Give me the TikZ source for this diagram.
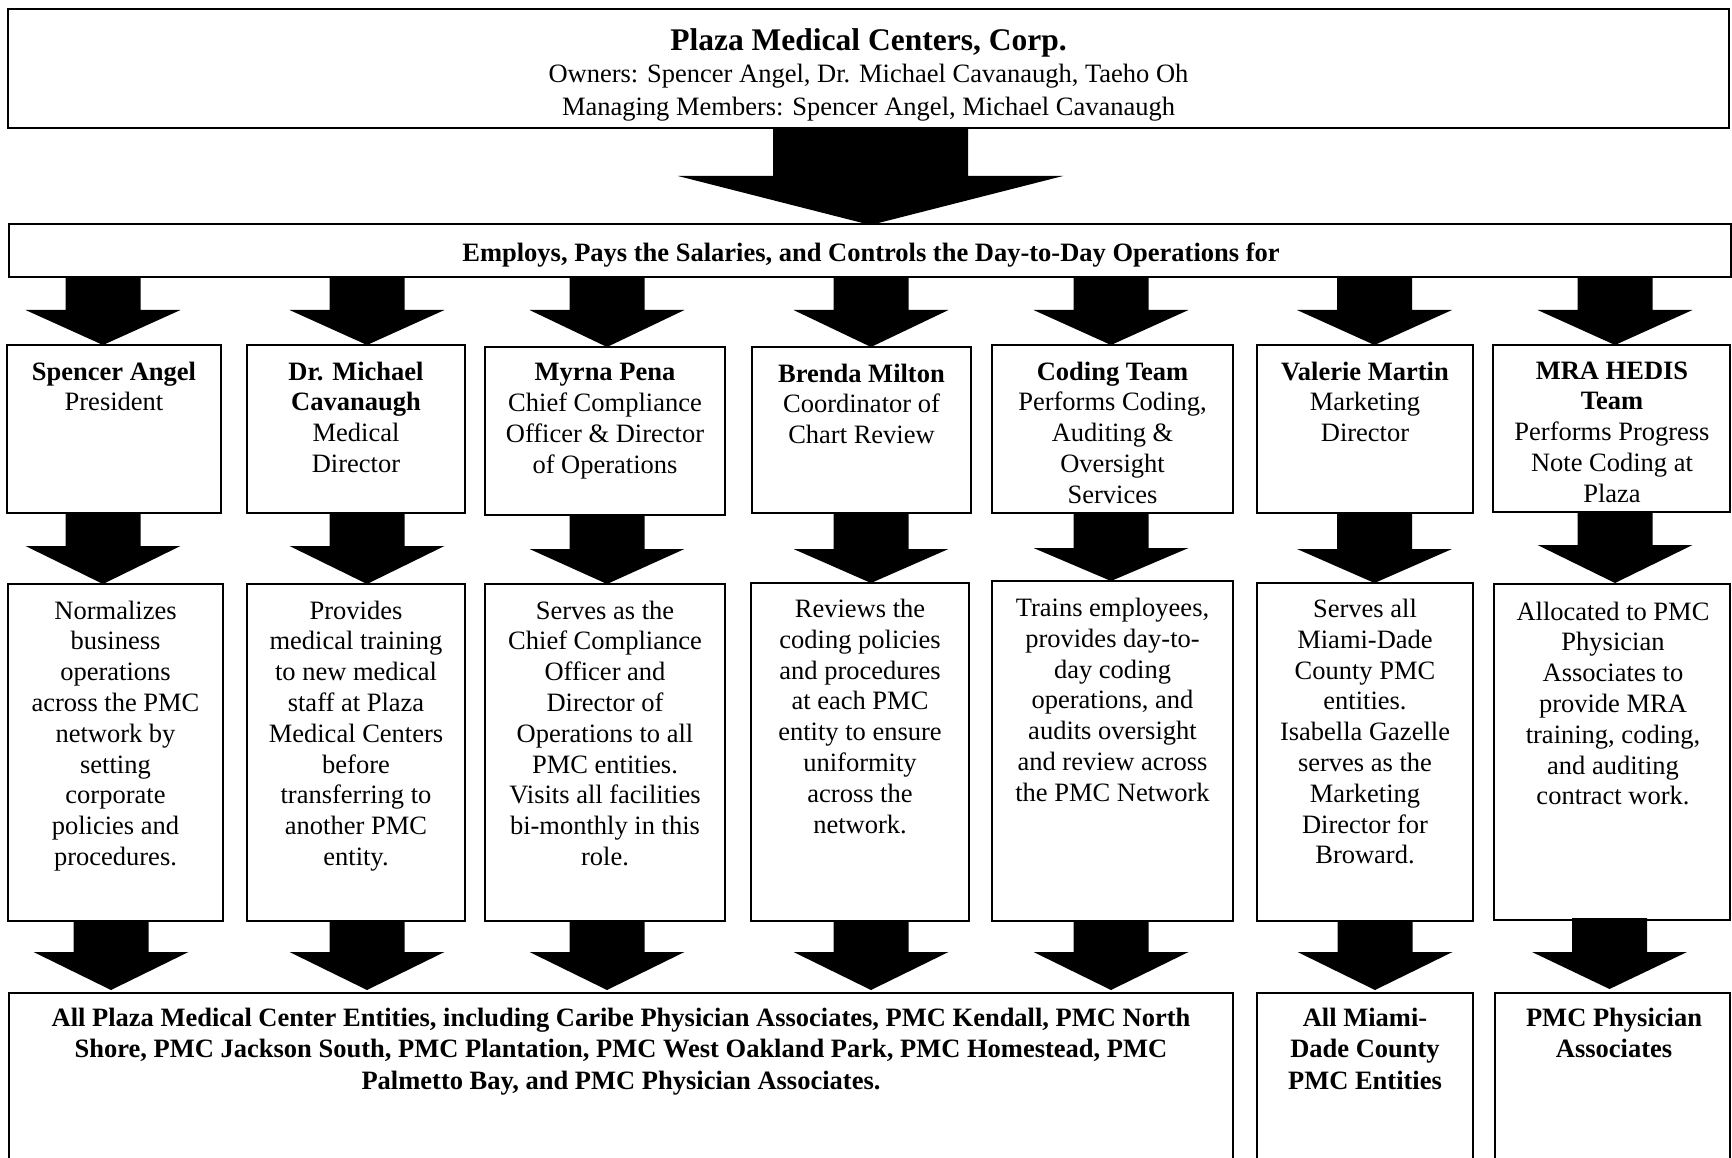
\documentclass[tikz,border=0pt]{standalone}
\usepackage{fontspec}
\setmainfont{Liberation Serif}
\tikzset{
  box/.style={draw=black, line width=1.3pt, rectangle, inner sep=0pt, outer sep=0pt, anchor=north west},
  txt/.style={anchor=north, align=center, inner sep=0pt, font=\fontsize{26.5}{30.8}\selectfont, execute at begin node=\strut},
  arrowfill/.style={fill=black}
}
% box node: name, x1, y1, x2, y2
\newcommand\boxnode[5]{\node[box, minimum width={#4-#2}, minimum height={#5-#3}] (#1) at (#2,#3) {};}
% block arrow: cx, shaft half width, head half width, ytop, yhead, ytip
\newcommand\barrow[6]{\fill[arrowfill] ({#1-#2},#4) -- ({#1+#2},#4) -- ({#1+#2},#5) -- ({#1+#3},#5) -- (#1,#6) -- ({#1-#3},#5) -- ({#1-#2},#5) -- cycle;}
\begin{document}
\begin{tikzpicture}[x=1pt,y=-1pt]
\useasboundingbox[fill=white] (0,0) rectangle (1732,1158);

% ---- top box ----
\boxnode{top}{8}{9}{1729}{128}
\node[txt, font=\fontsize{26.5}{32.5}\selectfont] (toptxt) at (868.5,{51-22.75})
  {{\fontsize{31.5}{33}\selectfont\bfseries Plaza Medical Centers, Corp.}\\
   Owners: Spencer Angel, Dr. Michael Cavanaugh, Taeho Oh\\
   Managing Members: Spencer Angel, Michael Cavanaugh};

% ---- employs box ----
\boxnode{emp}{9}{224}{1731}{277}
\node[txt, font=\fontsize{26.5}{30.8}\selectfont\bfseries] (emptxt) at (871,{261.5-21.56})
  {Employs, Pays the Salaries, and Controls the Day-to-Day Operations for};

% big arrow
\barrow{870.5}{97.5}{192.5}{128}{176}{225}

% ---- row 1 boxes ----
\boxnode{ra}{7}{345}{221}{513}
\boxnode{rb}{247}{345}{465}{513}
\boxnode{rc}{485}{347}{725}{515}
\boxnode{rd}{752}{347}{971}{513}
\boxnode{re}{992}{345}{1233}{513}
\boxnode{rf}{1257}{345}{1473}{513}
\boxnode{rg}{1493}{345}{1730}{512}

\node[txt] (ta) at (114,{383-21.56}) {\textbf{Spencer Angel}\\President};
\node[txt] (tb) at (356,{383-21.56}) {\textbf{Dr. Michael}\\\textbf{Cavanaugh}\\Medical\\Director};
\node[txt] (tc) at (605,{385-21.56}) {\textbf{Myrna Pena}\\Chief Compliance\\Officer \& Director\\of Operations};
\node[txt] (td) at (861.5,{385-21.56}) {\textbf{Brenda Milton}\\Coordinator of\\Chart Review};
\node[txt] (te) at (1112.5,{383-21.56}) {\textbf{Coding Team}\\Performs Coding,\\Auditing \&\\Oversight\\Services};
\node[txt] (tf) at (1365,{383-21.56}) {\textbf{Valerie Martin}\\Marketing\\Director};
\node[txt] (tg) at (1612,{383-21.56}) {\textbf{MRA HEDIS}\\\textbf{Team}\\Performs Progress\\Note Coding at\\Plaza};

% arrows employs -> row 1
\barrow{103}{37.5}{77.5}{277}{310}{345}
\barrow{367}{37.5}{77.5}{277}{310}{345}
\barrow{607}{37.5}{77.5}{277}{310}{347}
\barrow{871}{37.5}{77.5}{277}{310}{347}
\barrow{1111}{37.5}{77.5}{277}{310}{345}
\barrow{1374.5}{37.5}{77.5}{277}{310}{345}
\barrow{1615}{37.5}{77.5}{277}{310}{345}

% ---- row 2 boxes ----
\boxnode{sa}{8}{584}{223}{921}
\boxnode{sb}{247}{584}{465}{921}
\boxnode{sc}{485}{584}{725}{921}
\boxnode{sd}{751}{583}{969}{921}
\boxnode{se}{992}{581}{1233}{921}
\boxnode{sf}{1257}{583}{1473}{921}
\boxnode{sg}{1494}{584}{1730}{920}

\node[txt] (ua) at (115.5,{622-21.56}) {Normalizes\\business\\operations\\across the PMC\\network by\\setting\\corporate\\policies and\\procedures.};
\node[txt] (ub) at (356,{622-21.56}) {Provides\\medical training\\to new medical\\staff at Plaza\\Medical Centers\\before\\transferring to\\another PMC\\entity.};
\node[txt] (uc) at (605,{622-21.56}) {Serves as the\\Chief Compliance\\Officer and\\Director of\\Operations to all\\PMC entities.\\Visits all facilities\\bi-monthly in this\\role.};
\node[txt] (ud) at (860,{620.5-21.56}) {Reviews the\\coding policies\\and procedures\\at each PMC\\entity to ensure\\uniformity\\across the\\network.};
\node[txt] (ue) at (1112.5,{619.5-21.56}) {Trains employees,\\provides day-to-\\day coding\\operations, and\\audits oversight\\and review across\\the PMC Network};
\node[txt] (uf) at (1365,{620.5-21.56}) {Serves all\\Miami-Dade\\County PMC\\entities.\\Isabella Gazelle\\serves as the\\Marketing\\Director for\\Broward.};
\node[txt] (ug) at (1613,{623-21.56}) {Allocated to PMC\\Physician\\Associates to\\provide MRA\\training, coding,\\and auditing\\contract work.};

% arrows row 1 -> row 2
\barrow{103}{37.5}{77.5}{513}{546}{584}
\barrow{367}{37.5}{77.5}{513}{546}{584}
\barrow{607}{37.5}{77.5}{515}{549}{584}
\barrow{871}{37.5}{77.5}{513}{549}{583}
\barrow{1111}{37.5}{77.5}{513}{548}{581}
\barrow{1374.5}{37.5}{77.5}{513}{549}{583}
\barrow{1615}{37.5}{77.5}{512}{545}{583}

% ---- bottom boxes ----
\boxnode{ba}{9}{993}{1233}{1175}
\boxnode{bf}{1257}{993}{1473}{1175}
\boxnode{bg}{1495}{993}{1730}{1175}

\node[txt, font=\fontsize{26.5}{31.5}\selectfont\bfseries] (va) at (621,{1029.5-22.05})
  {All Plaza Medical Center Entities, including Caribe Physician Associates, PMC Kendall, PMC North\\
   Shore, PMC Jackson South, PMC Plantation, PMC West Oakland Park, PMC Homestead, PMC\\
   Palmetto Bay, and PMC Physician Associates.};
\node[txt, font=\fontsize{26.5}{31.5}\selectfont\bfseries] (vf) at (1365,{1029.5-22.05}) {All Miami-\\Dade County\\PMC Entities};
\node[txt, font=\fontsize{26.5}{31.5}\selectfont\bfseries] (vg) at (1614,{1029.5-22.05}) {PMC Physician\\Associates};

% arrows row 2 -> bottom
\barrow{111}{37.5}{77.5}{921}{952}{990}
\barrow{367}{37.5}{77.5}{921}{952}{990}
\barrow{607}{37.5}{77.5}{921}{952}{990}
\barrow{871}{37.5}{77.5}{921}{952}{990}
\barrow{1111}{37.5}{77.5}{921}{952}{990}
\barrow{1375}{37.5}{77.5}{921}{952}{990}
\barrow{1609.5}{37.5}{77.5}{918}{952}{989}
\end{tikzpicture}
\end{document}
